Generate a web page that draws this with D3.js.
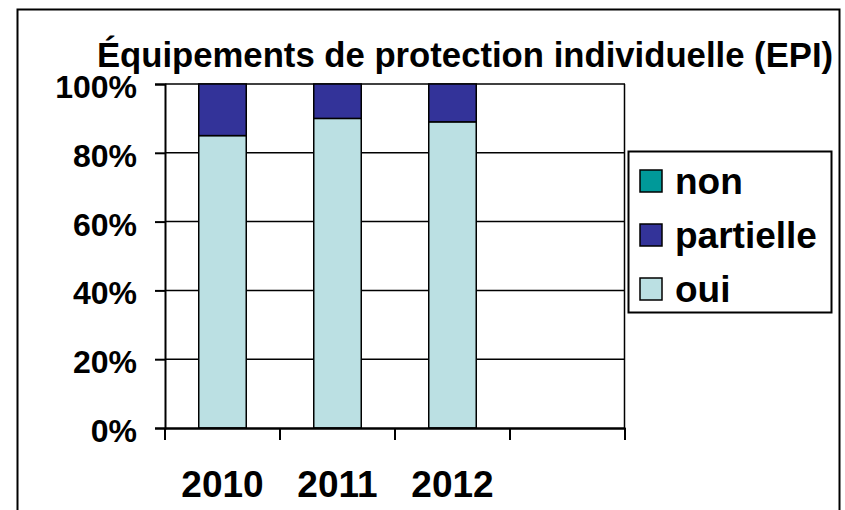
<!DOCTYPE html>
<html><head><meta charset="utf-8">
<script src="https://cdn.jsdelivr.net/npm/d3@7"></script>
<style>html,body{margin:0;padding:0;background:#fff;}svg{display:block;}</style>
</head><body>
<script>
const title = "Équipements de protection individuelle (EPI)";
const categories = ["2010", "2011", "2012"];
const seriesNames = ["oui", "partielle", "non"];
const oui = [0.85, 0.90, 0.89];
const partielle = [0.15, 0.10, 0.11];
const non = [0, 0, 0];
const yTicks = [0, 0.2, 0.4, 0.6, 0.8, 1.0];
const legendOrder = ["non", "partielle", "oui"];
const colors = {oui: "#BBE0E3", partielle: "#333399", non: "#009999"};

const W = 845, H = 510;
const font = "'Liberation Sans', Arial, Helvetica, sans-serif";
const svg = d3.select("body").append("svg").attr("width", W).attr("height", H);

// outer frame
svg.append("rect").attr("x", 17.5).attr("y", 9.5).attr("width", 822).attr("height", 520)
  .attr("fill", "#fff").attr("stroke", "#000").attr("stroke-width", 2);

const slots = [...categories, " "];
const x = d3.scaleBand().domain(slots).range([165, 625]).padding(0);
const y = d3.scaleLinear().domain([0, 1]).range([428, 84]);
const barW = x.bandwidth() * 0.413;

// gridlines
svg.append("g").selectAll("line").data(yTicks.filter(d => d > 0)).join("line")
  .attr("x1", 165).attr("x2", 625).attr("y1", d => y(d)).attr("y2", d => y(d))
  .attr("stroke", "#000").attr("stroke-width", 1.5);
// right plot edge
svg.append("line").attr("x1", 624.5).attr("x2", 624.5).attr("y1", y(1)).attr("y2", y(0))
  .attr("stroke", "#000").attr("stroke-width", 1.5);

// stacked data
const rows = categories.map((c, i) => ({cat: c, oui: oui[i], partielle: partielle[i], non: non[i]}));
const stack = d3.stack().keys(seriesNames)(rows);
svg.append("g").selectAll("g").data(stack).join("g")
  .attr("fill", d => colors[d.key])
  .selectAll("rect").data(d => d.filter(p => p[1] - p[0] > 0)).join("rect")
  .attr("x", d => x(d.data.cat) + (x.bandwidth() - barW) / 2)
  .attr("width", barW)
  .attr("y", d => y(d[1]))
  .attr("height", d => y(d[0]) - y(d[1]))
  .attr("stroke", "#000").attr("stroke-width", 1.5);

// y axis
const yAxis = svg.append("g").attr("transform", "translate(165,0)")
  .call(d3.axisLeft(y).tickValues(yTicks).tickFormat(d3.format(".0%")).tickSize(10).tickPadding(18));
yAxis.select(".domain").attr("stroke-width", 2);
yAxis.selectAll(".tick line").attr("stroke-width", 2);
yAxis.selectAll("text").attr("font-family", font).attr("font-size", 32).attr("font-weight", "bold")
  .attr("fill", "#000").attr("dy", "0.42em");

// x axis
const xAxis = svg.append("g").attr("transform", `translate(0,${y(0)})`)
  .call(d3.axisBottom(x).tickSize(0).tickFormat(d => d.trim()));
xAxis.select(".domain").attr("stroke-width", 2.5);
xAxis.selectAll("text").attr("font-family", font).attr("font-size", 37).attr("font-weight", "bold")
  .attr("fill", "#000").attr("y", 69).attr("dy", 0);
// boundary tick marks
svg.append("g").selectAll("line").data(slots.map(s => x(s)).concat([x(slots[slots.length - 1]) + x.bandwidth()]))
  .join("line").attr("x1", d => d).attr("x2", d => d).attr("y1", y(0)).attr("y2", y(0) + 12)
  .attr("stroke", "#000").attr("stroke-width", 2);

// title
svg.append("text").attr("x", 465).attr("y", 67).attr("text-anchor", "middle")
  .attr("font-family", font).attr("font-size", 34.7).attr("font-weight", "bold").text(title);

// legend
const lg = svg.append("g");
lg.append("rect").attr("x", 628.5).attr("y", 151.5).attr("width", 203).attr("height", 161)
  .attr("fill", "#fff").attr("stroke", "#000").attr("stroke-width", 2);
const li = lg.selectAll("g.item").data(legendOrder).join("g").attr("class", "item")
  .attr("transform", (d, i) => `translate(640,${170 + i * 54})`);
li.append("rect").attr("width", 22).attr("height", 22).attr("fill", d => colors[d])
  .attr("stroke", "#000").attr("stroke-width", 1.5);
li.append("text").attr("x", 35).attr("y", 24).attr("font-family", font).attr("font-size", 37)
  .attr("font-weight", "bold").text(d => d);
</script>
</body></html>
